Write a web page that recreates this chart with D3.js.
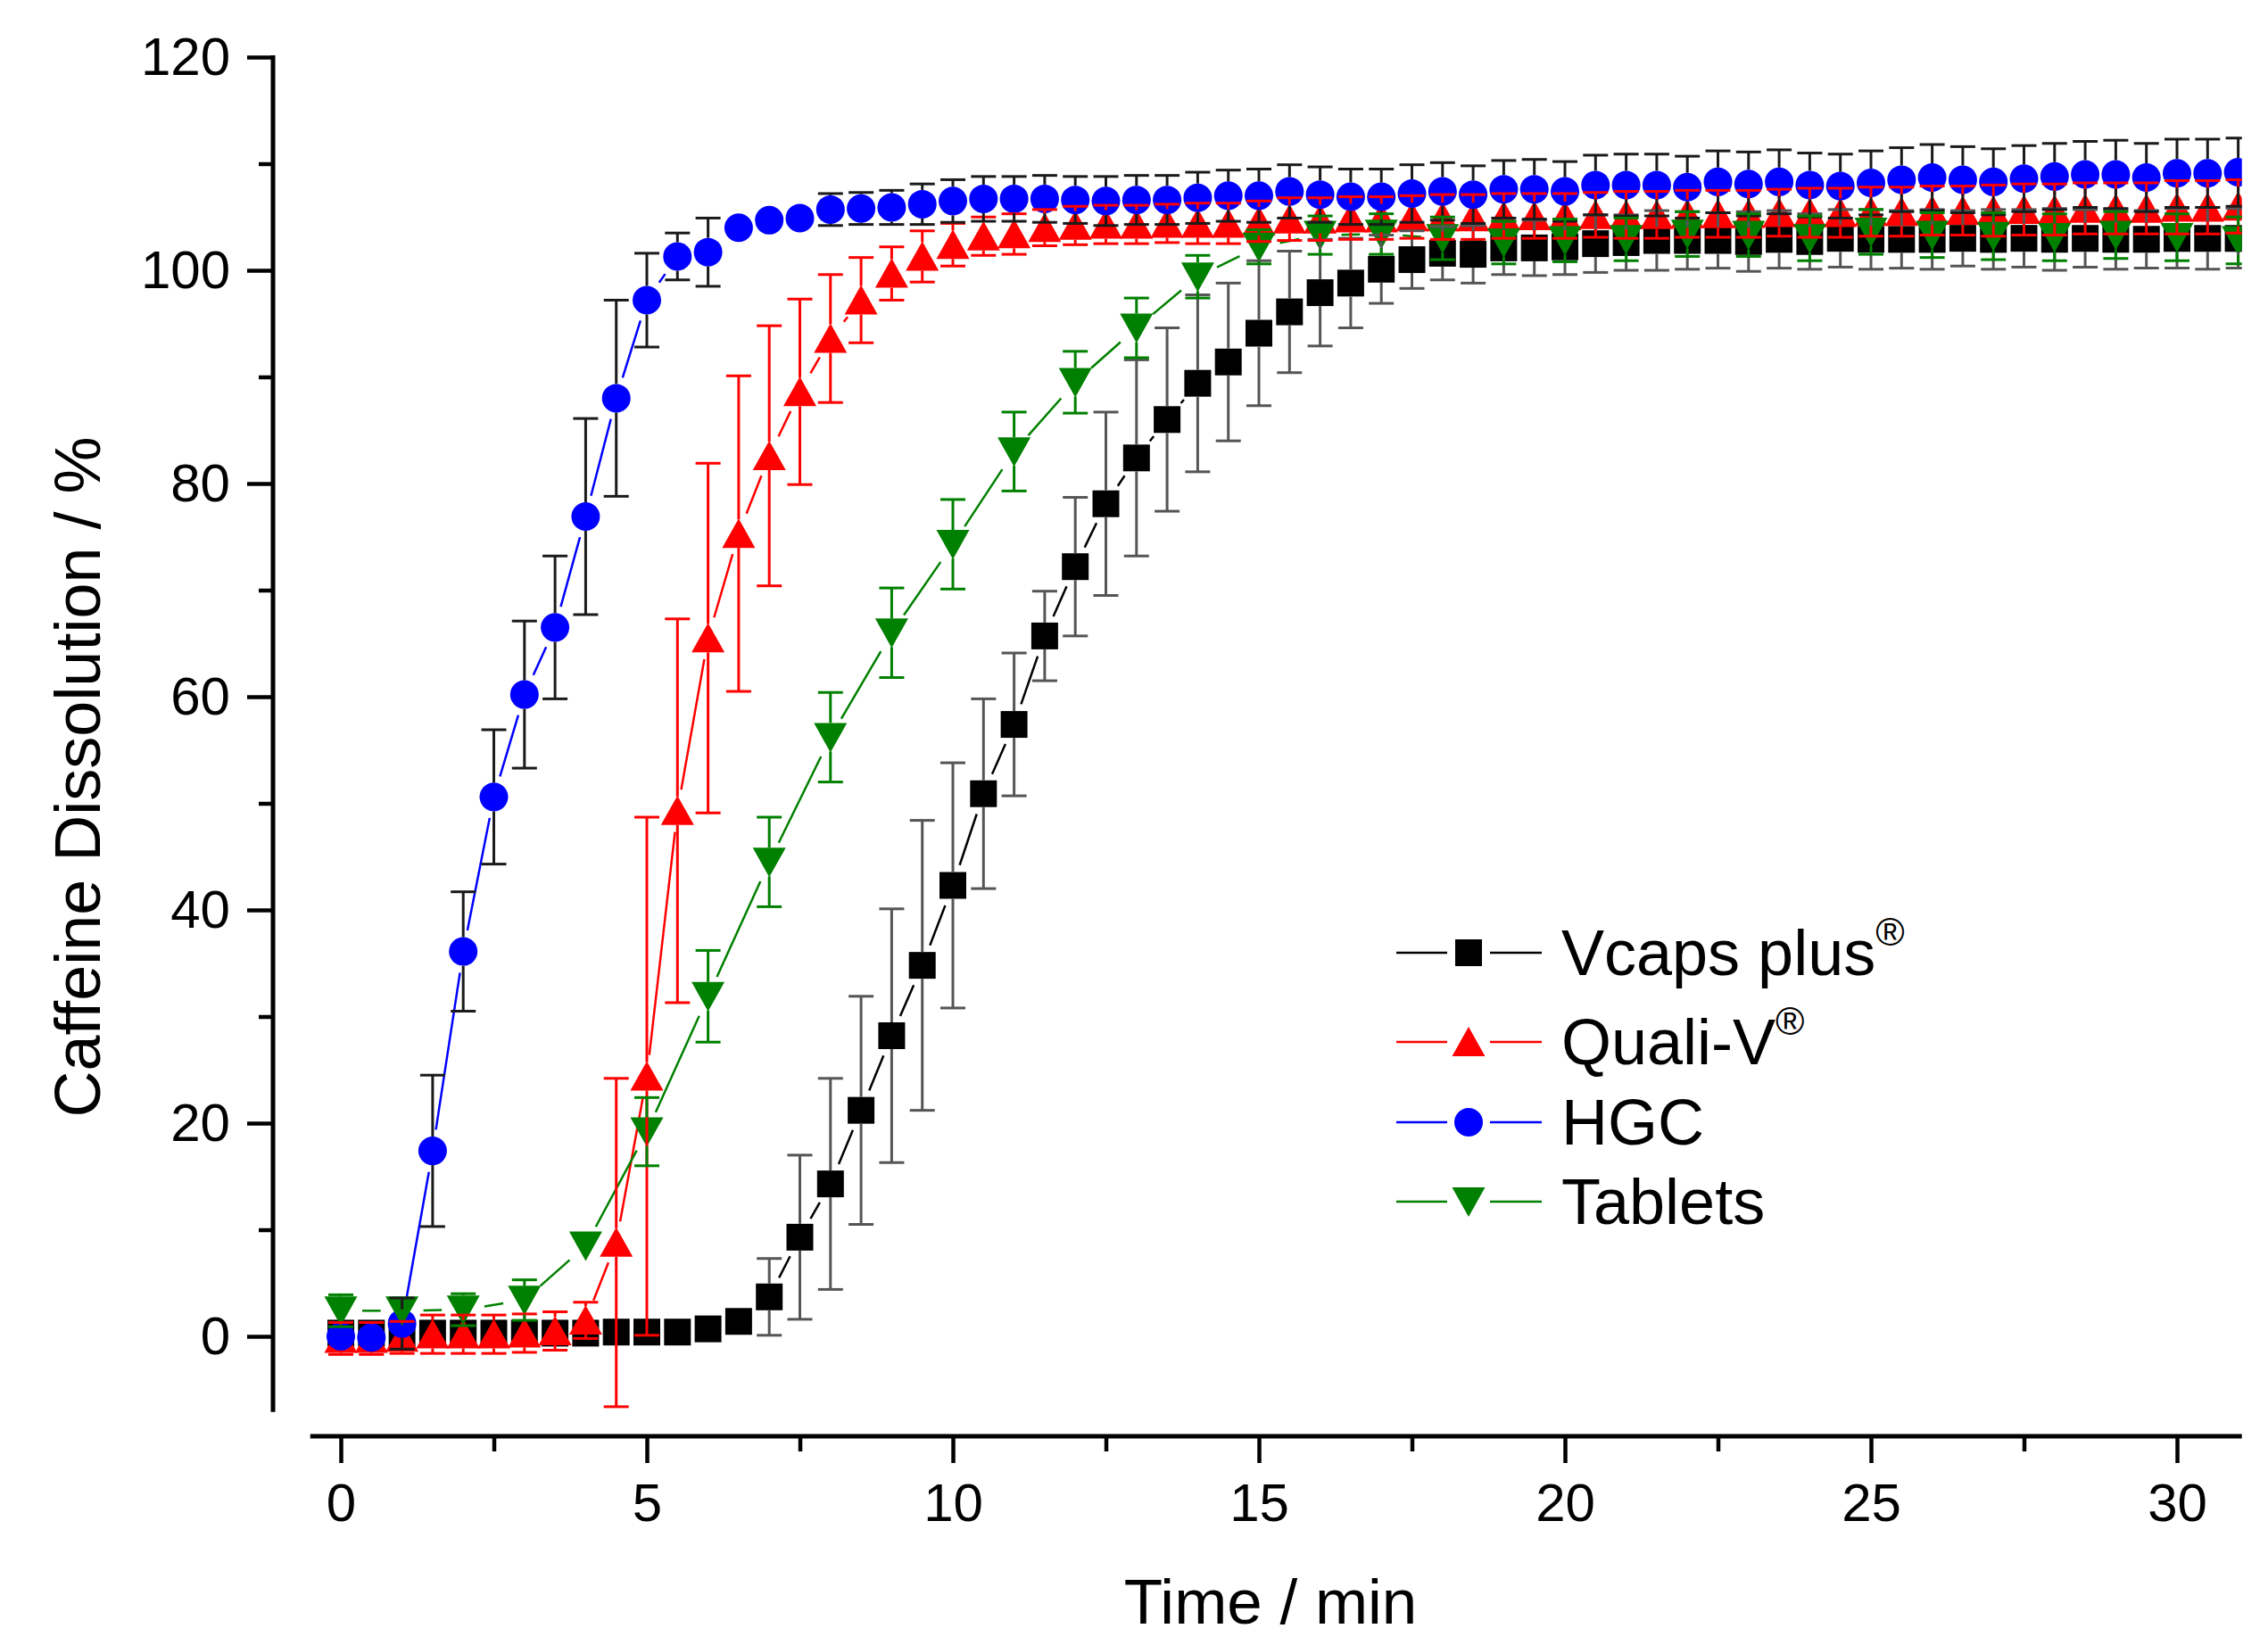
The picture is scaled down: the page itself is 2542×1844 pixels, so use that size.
<!DOCTYPE html>
<html>
<head>
<meta charset="utf-8">
<script src="https://cdn.jsdelivr.net/npm/d3@7"></script>
<style>
body { margin: 0; background: #fff; }
svg { display: block; }
text { font-family: "Liberation Sans", Arial, sans-serif; }
</style>
</head>
<body>
<script>
var width = 2542
var height = 1844

// sampling times (min)
var timeHalf = [0, 0.5, 1, 1.5, 2, 2.5, 3, 3.5, 4, 4.5, 5, 5.5, 6, 6.5, 7, 7.5, 8, 8.5, 9, 9.5,
    10, 10.5, 11, 11.5, 12, 12.5, 13, 13.5, 14, 14.5, 15, 15.5, 16, 16.5, 17, 17.5, 18, 18.5, 19, 19.5,
    20, 20.5, 21, 21.5, 22, 22.5, 23, 23.5, 24, 24.5, 25, 25.5, 26, 26.5, 27, 27.5, 28, 28.5, 29, 29.5,
    30, 30.5, 31]
var timeWhole = [0, 1, 2, 3, 4, 5, 6, 7, 8, 9, 10, 11, 12, 13, 14, 15, 16, 17, 18, 19,
    20, 21, 22, 23, 24, 25, 26, 27, 28, 29, 30, 31]

var vcaps = [0.3, 0.3, 0.3, 0.3, 0.3, 0.3, 0.3, 0.3, 0.3, 0.4,
    0.4, 0.4, 0.7, 1.4, 3.7, 9.3, 14.3, 21.2, 28.2, 34.8,
    42.3, 50.9, 57.4, 65.7, 72.2, 78.1, 82.4, 86.0, 89.4, 91.4,
    94.1, 96.1, 97.9, 98.8, 100.1, 101.0, 101.6, 101.5, 102.1, 102.1,
    102.2, 102.5, 102.6, 102.8, 102.8, 102.8, 102.7, 102.9, 102.7, 103.0,
    102.9, 102.9, 102.9, 103.0, 102.9, 103.0, 102.9, 103.0, 102.9, 102.9,
    103.0, 103.0, 103.0]
var vcapsErr = [0.3, 0.3, 0.3, 0.3, 0.3, 0.3, 0.3, 0.3, 0.3, 0.3,
    0.3, 0.3, 0.4, 0.8, 3.6, 7.7, 9.9, 10.7, 11.9, 13.6,
    11.5, 8.9, 6.7, 4.2, 6.5, 8.6, 9.2, 8.6, 8.3, 7.4,
    6.8, 5.7, 5.0, 4.2, 3.2, 2.7, 2.5, 2.7, 2.5, 2.6,
    2.6, 2.7, 2.6, 2.8, 2.7, 2.6, 2.8, 2.7, 2.6, 2.7,
    2.8, 2.7, 2.8, 2.6, 2.8, 2.7, 2.9, 2.7, 2.8, 2.7,
    2.8, 2.9, 2.8]

var qualiV = [-0.2, -0.2, -0.1, 0.2, 0.2, 0.2, 0.3, 0.5, 1.5, 8.8,
    24.4, 49.3, 65.5, 75.3, 82.6, 88.6, 93.6, 97.2, 99.7, 101.3,
    102.4, 103.2, 103.4, 104.0, 104.2, 104.3, 104.3, 104.4, 104.4, 104.4,
    104.6, 104.8, 104.8, 104.9, 104.9, 105.0, 105.0, 105.0, 105.1, 105.1,
    105.1, 105.2, 105.2, 105.2, 105.3, 105.3, 105.3, 105.4, 105.4, 105.4,
    105.5, 105.5, 105.6, 105.6, 105.6, 105.7, 105.7, 105.8, 105.8, 105.8,
    105.9, 105.9, 106.0]
var qualiVErr = [1.5, 1.5, 1.5, 1.8, 1.8, 1.8, 1.8, 1.8, 1.7, 15.4,
    24.3, 18.0, 16.4, 14.8, 12.2, 8.7, 6.0, 4.0, 2.5, 2.4,
    2.0, 1.8, 1.9, 1.7, 1.8, 1.8, 1.8, 1.8, 1.9, 1.9,
    1.9, 2.0, 2.0, 2.0, 2.0, 2.0, 2.1, 2.1, 2.1, 2.1,
    2.1, 2.1, 2.2, 2.2, 2.2, 2.2, 2.2, 2.2, 2.3, 2.3,
    2.3, 2.3, 2.3, 2.3, 2.4, 2.4, 2.4, 2.4, 2.4, 2.4,
    2.5, 2.5, 2.5]

var hgc = [0.0, -0.1, 1.2, 17.4, 36.1, 50.6, 60.2, 66.5, 76.9, 88.0,
    97.2, 101.3, 101.7, 104.0, 104.7, 104.9, 105.7, 105.8, 105.9, 106.2,
    106.5, 106.7, 106.7, 106.7, 106.6, 106.5, 106.6, 106.6, 106.8, 107.0,
    107.0, 107.4, 107.1, 106.9, 106.9, 107.2, 107.4, 107.1, 107.6, 107.6,
    107.4, 108.0, 108.0, 108.0, 107.8, 108.3, 108.1, 108.3, 108.0, 107.9,
    108.2, 108.5, 108.7, 108.5, 108.3, 108.6, 108.8, 109.0, 109.0, 108.7,
    109.1, 109.1, 109.2]
var hgcErr = [0.8, 0.8, 2.4, 7.1, 5.6, 6.3, 6.9, 6.7, 9.2, 9.2,
    4.4, 2.2, 3.2, 1.3, 1.3, 1.4, 1.5, 1.5, 1.6, 1.9,
    2.0, 2.1, 2.1, 2.2, 2.2, 2.3, 2.3, 2.3, 2.4, 2.4,
    2.5, 2.5, 2.6, 2.6, 2.6, 2.7, 2.7, 2.7, 2.7, 2.8,
    2.8, 2.8, 2.9, 2.9, 2.9, 2.9, 3.0, 3.0, 3.0, 3.0,
    3.0, 3.0, 3.1, 3.1, 3.1, 3.1, 3.1, 3.1, 3.2, 3.2,
    3.2, 3.2, 3.2]

var tablets = [2.4, 2.4, 2.5, 3.4, 8.5, 19.2, 31.9, 44.5, 56.2, 66.0,
    74.3, 83.0, 89.5, 94.6, 99.4, 102.2, 103.3, 103.4, 103.0, 102.6,
    102.8, 102.9, 103.4, 103.3, 103.0, 103.6, 103.3, 103.2, 103.1, 103.3,
    103.1, 102.8]
var tabletsErr = [1.5, 1.4, 1.5, 1.9, 1.4, 3.2, 4.3, 4.2, 4.2, 4.2,
    4.2, 3.7, 2.9, 2.8, 2.0, 1.6, 1.8, 1.9, 2.0, 2.0,
    2.0, 2.0, 2.1, 2.0, 2.1, 2.1, 2.1, 2.2, 2.2, 2.2,
    2.2, 2.2]

var xTicks = [0, 5, 10, 15, 20, 25, 30]
var xMinorTicks = [2.5, 7.5, 12.5, 17.5, 22.5, 27.5]
var yTicks = [0, 20, 40, 60, 80, 100, 120]
var yMinorTicks = [10, 30, 50, 70, 90, 110]

var series = [
    { name: 'Vcaps plus', sup: '\u00AE', t: timeHalf, v: vcaps, e: vcapsErr, color: '#000000', errColor: '#555555', shape: 'square' },
    { name: 'Quali-V', sup: '\u00AE', t: timeHalf, v: qualiV, e: qualiVErr, color: '#ff0000', errColor: '#ff0000', shape: 'up' },
    { name: 'HGC', sup: '', t: timeHalf, v: hgc, e: hgcErr, color: '#0000ff', errColor: '#1a1a1a', shape: 'circle' },
    { name: 'Tablets', sup: '', t: timeWhole, v: tablets, e: tabletsErr, color: '#008000', errColor: '#008000', shape: 'down' }
]

var x = d3.scaleLinear().domain([0, 30]).range([382, 2440])
var y = d3.scaleLinear().domain([0, 100]).range([1498, 303])

var yAxisX = 306
var xAxisY = 1610
var xStart = -0.5, xEnd = 31.06
var yBottom = -7.1, yTop = 120

var svg = d3.select('body').append('svg').attr('width', width).attr('height', height)
svg.append('rect').attr('width', width).attr('height', height).attr('fill', '#fff')

svg.append('clipPath').attr('id', 'plotClip')
    .append('rect').attr('x', yAxisX).attr('y', 0)
    .attr('width', x(xEnd) - yAxisX).attr('height', xAxisY)

// marker path centered on 0,0
function markerPath(shape) {
    if (shape === 'square') return 'M-15,-15H15V15H-15Z'
    if (shape === 'circle') return 'M-16,0A16,16 0 1,0 16,0A16,16 0 1,0 -16,0Z'
    if (shape === 'up') return 'M0,-17L18.5,16L-18.5,16Z'
    return 'M0,17L18.5,-16L-18.5,-16Z'
}
var halfSize = { square: 15, circle: 16, up: 16, down: 16 }

// ---- y axis ----
var gy = svg.append('g').attr('transform', `translate(${yAxisX},0)`)
gy.call(d3.axisLeft(y).tickValues(yTicks).tickSize(29).tickPadding(19))
gy.append('g').call(d3.axisLeft(y).tickValues(yMinorTicks).tickSize(16).tickFormat(''))
gy.selectAll('.domain').remove()
gy.selectAll('.tick line').attr('stroke', '#000').attr('stroke-width', 4.5)
gy.selectAll('.tick text').attr('font-size', 60).attr('fill', '#000')
    .attr('font-family', '"Liberation Sans", Arial, sans-serif')
gy.append('line').attr('x1', 0).attr('x2', 0).attr('y1', y(yTop) - 2).attr('y2', y(yBottom))
    .attr('stroke', '#000').attr('stroke-width', 5)

// ---- x axis ----
var gx = svg.append('g').attr('transform', `translate(0,${xAxisY})`)
gx.call(d3.axisBottom(x).tickValues(xTicks).tickSize(30).tickPadding(22))
gx.append('g').call(d3.axisBottom(x).tickValues(xMinorTicks).tickSize(17).tickFormat(''))
gx.selectAll('.domain').remove()
gx.selectAll('.tick line').attr('stroke', '#000').attr('stroke-width', 4.5)
gx.selectAll('.tick text').attr('font-size', 60).attr('fill', '#000')
    .attr('font-family', '"Liberation Sans", Arial, sans-serif')
gx.append('line').attr('x1', x(xStart)).attr('x2', x(xEnd)).attr('y1', 0).attr('y2', 0)
    .attr('stroke', '#000').attr('stroke-width', 5)

// ---- axis titles ----
svg.append('text').attr('transform', `translate(112,871) rotate(-90)`)
    .attr('text-anchor', 'middle').attr('font-size', 72).text('Caffeine Dissolution / %')
svg.append('text').attr('x', 1424).attr('y', 1820)
    .attr('text-anchor', 'middle').attr('font-size', 71).text('Time / min')

// ---- data ----
var plot = svg.append('g').attr('clip-path', 'url(#plotClip)')
var gap = 24

series.forEach(s => {
    var pts = s.t.map((t, i) => [x(t), y(s.v[i])])
    var segs = []
    for (var i = 1; i < pts.length; i++) {
        var dx = pts[i][0] - pts[i - 1][0], dy = pts[i][1] - pts[i - 1][1]
        var len = Math.sqrt(dx * dx + dy * dy)
        if (len <= 2 * gap + 1) continue
        var ux = dx / len, uy = dy / len
        segs.push([pts[i - 1][0] + ux * gap, pts[i - 1][1] + uy * gap, pts[i][0] - ux * gap, pts[i][1] - uy * gap])
    }
    plot.append('g').selectAll('line').data(segs).enter().append('line')
        .attr('x1', d => d[0]).attr('y1', d => d[1]).attr('x2', d => d[2]).attr('y2', d => d[3])
        .attr('stroke', s.color).attr('stroke-width', 2.5)
})

series.forEach(s => {
    plot.append('g').selectAll('path').data(s.t).enter().append('path')
        .attr('d', markerPath(s.shape))
        .attr('transform', (t, i) => `translate(${x(t)},${y(s.v[i])})`)
        .attr('fill', s.color)
})

series.forEach(s => {
    var hs = halfSize[s.shape]
    var g = plot.append('g').attr('stroke', s.errColor).attr('stroke-width', 3).attr('fill', 'none')
    s.t.forEach((t, i) => {
        var cx = x(t), cy = y(s.v[i])
        var top = y(s.v[i] + s.e[i]), bot = y(s.v[i] - s.e[i])
        if (cy - top > hs + 1) {
            g.append('line').attr('x1', cx).attr('x2', cx).attr('y1', cy - hs).attr('y2', top)
            g.append('line').attr('x1', cx - 14).attr('x2', cx + 14).attr('y1', top).attr('y2', top)
        }
        if (bot - cy > hs + 1) {
            g.append('line').attr('x1', cx).attr('x2', cx).attr('y1', cy + hs).attr('y2', bot)
            g.append('line').attr('x1', cx - 14).attr('x2', cx + 14).attr('y1', bot).attr('y2', bot)
        }
    })
})

// ---- legend ----
var legendRows = [1068, 1168, 1258, 1347]
var legend = svg.append('g')
series.forEach((s, i) => {
    var ly = legendRows[i]
    var row = legend.append('g').attr('transform', `translate(0,${ly})`)
    row.append('line').attr('x1', 1565).attr('x2', 1622).attr('y1', 0).attr('y2', 0)
        .attr('stroke', s.color).attr('stroke-width', 2.5)
    row.append('line').attr('x1', 1670).attr('x2', 1728).attr('y1', 0).attr('y2', 0)
        .attr('stroke', s.color).attr('stroke-width', 2.5)
    row.append('path').attr('d', markerPath(s.shape)).attr('transform', 'translate(1646,0)').attr('fill', s.color)
    var txt = row.append('text').attr('x', 1750).attr('y', 25).attr('font-size', 72).attr('fill', '#000')
    txt.append('tspan').text(s.name)
    if (s.sup) txt.append('tspan').attr('font-size', 44).attr('dy', -33).text(s.sup)
})
</script>
</body>
</html>
